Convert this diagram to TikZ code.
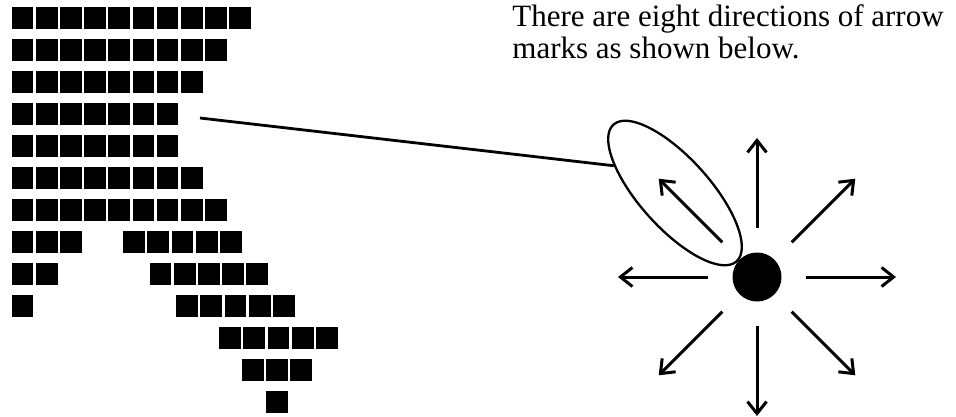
\documentclass[tikz,border=0pt]{standalone}
\usepackage{fontspec}
\setmainfont{Liberation Serif}
\usetikzlibrary{arrows.meta, calc, positioning, shapes.geometric}

\begin{document}
\begin{tikzpicture}[x=1pt, y=-1pt, thick]
  \tikzstyle{block} = [fill=black, draw=none]
  \tikzstyle{dirarrow} = [-{Straight Barb[length=12pt, width=19pt]}, line width=3pt]
  \tikzstyle{caption} = [anchor=base west, inner sep=0pt, font=\fontsize{31}{32}\selectfont]
  \useasboundingbox (0,0) rectangle (956,417);
  % Define grid parameters for the squares.
    \def\pitchx{24.18}      %Horizontal step.
    \def\pitchy{32}         %Vertical step.
    \def\side{21.7}         %Side of one square.
% SQUARES: row/start x/count
    \foreach \r/\s/\n in {1/11.7/10, 2/11.7/9, 3/11.7/8, 4/11.7/7, 5/11.7/7,
        6/11.7/8, 7/11.7/9, 8/11.7/3, 8/123.3/5, 9/11.7/2, 9/149.7/5,
        10/11.7/1, 10/176.3/5, 11/219.3/5, 12/242/3, 13/266/1}
      \foreach \k in {1,...,\n}
        \fill[block] ({\s+(\k-1)*\pitchx}, {7+(\r-1)*\pitchy}) rectangle ++(\side, \side);
% DOT and the eight arrows
    \node[circle, fill=black, minimum size=49pt, inner sep=0pt] (dot) at (757,277) {};
    \foreach \a in {0,45,...,315} {
      \coordinate (s\a) at ($(dot)+(\a:49)$);
      \coordinate (e\a) at ($(dot)+(\a:139)$);
      \draw[dirarrow] (s\a) -- (e\a);
    }
% LOOP round one arrow, and the line to it
    \node[ellipse, draw, line width=2.3pt, minimum width=184pt, minimum height=70pt,
          inner sep=0pt, rotate=-48] (loop) at (675,193) {};
    \coordinate (rowend) at (200,118);
    \draw[line width=2.8pt] (rowend) -- (loop.204);
% Text
    \node[caption] (line1) at (512,27) {There are eight directions of arrow};
    \node[caption] (line2) at ($(line1.base west)+(0,31.5)$) {marks as shown below.};
\end{tikzpicture}
\end{document}
